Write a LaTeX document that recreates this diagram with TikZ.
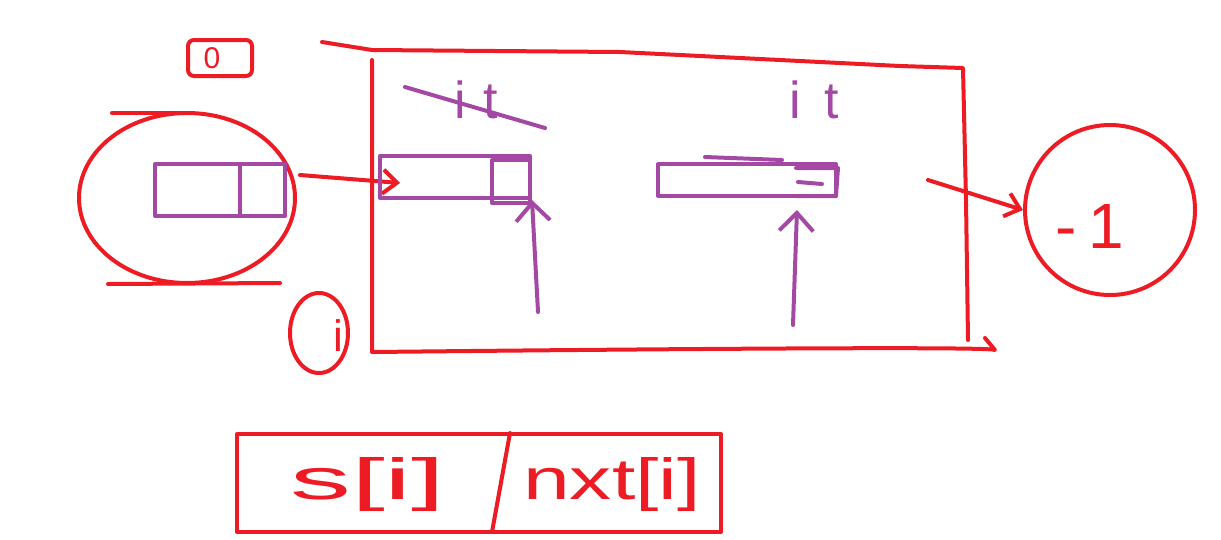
\documentclass[tikz,border=0pt]{standalone}
\usepackage{fontspec}
\usepackage{graphicx}
\setmainfont{Liberation Sans}
\usetikzlibrary{arrows.meta,shapes.geometric}
\definecolor{pred}{HTML}{ED1C24}
\definecolor{ppur}{HTML}{A349A4}
\begin{document}
\begin{tikzpicture}[x=1pt,y=-1pt,line cap=round,line join=round,
  redline/.style={draw=pred,line width=4pt},
  purline/.style={draw=ppur,line width=4pt},
  redtxt/.style={text=pred,font=\fontsize{58}{60}\selectfont,inner sep=0pt},
  purtxt/.style={text=ppur,font=\fontsize{52}{54}\selectfont,inner sep=0pt},
  redarrow/.style={redline,-{Straight Barb[length=14pt,width=24pt,line width=4pt]}},
  purarrow/.style={purline,-{Straight Barb[length=18pt,width=34pt,line width=4pt]}}]
\useasboundingbox (0,0) rectangle (1221,539);
% zero label
\node[redtxt,font=\fontsize{30}{32}\selectfont] (zero) at (212,58) {0};
\draw[redline,rounded corners=6pt] (188,40) rectangle (252,76);
% left circle
\node[draw=pred,line width=4pt,ellipse,minimum width=216pt,minimum height=170pt,inner sep=0pt] (lc) at (187,198) {};
\draw[redline] (112,113) -- (190,113);
\draw[redline] (108,284) -- (280,283);
\node[purline,minimum width=130pt,minimum height=52pt,inner sep=0pt] (lrect) at (220,190) {};
\draw[purline] (240,165) -- (240,215);
% main box
\coordinate (bx1) at (372,60);
\coordinate (bx2) at (372,352);
\coordinate (bx3) at (995,350);
\draw[redline] (322,42) -- (372,50) -- (620,52) -- (900,66) -- (963,68) -- (966,200) -- (968,340);
\draw[redline] (bx1) -- (bx2) .. controls (380,352) and (990,345) .. (bx3) -- (985,338);
% arrow into box
\coordinate (a1s) at (300,175);
\coordinate (a1e) at (400,183);
\draw[redarrow] (a1s) -- (a1e);
% first it (struck)
\node[purtxt] (it1) at (476,100) {i\hspace{18pt}t};
\draw[purline] (405,87) -- (545,128);
% rect 1
\node[purline,minimum width=150pt,minimum height=42pt,inner sep=0pt] (r1) at (455,177) {};
\draw[purline] (492,160) rectangle (530,203);
\coordinate (p1s) at (538,312);
\draw[purarrow] (p1s) -- (r1.south east);
% second it
\node[purtxt] (it2) at (814,100) {i\hspace{24pt}t};
% rect 2
\node[purline,minimum width=178pt,minimum height=32pt,inner sep=0pt] (r2) at (747,180) {};
\draw[purline] (796,168) -- (838,168) -- (836,196) -- (796,196);
\draw[purline] (798,182) -- (822,184);
\coordinate (q1) at (705,157);
\coordinate (q2) at (782,160);
\draw[purline] (q1) -- (q2);
\coordinate (p2s) at (793,325);
\coordinate (p2e) at (797,210);
\draw[purarrow] (p2s) -- (p2e);
% arrow out
\coordinate (a2s) at (928,180);
\node[draw=pred,line width=4pt,circle,minimum size=170pt,inner sep=0pt] (m1) at (1110,210) {};
\node[redtxt,font=\fontsize{64}{66}\selectfont] (m1t) at (1090,226) {-\hspace{12pt}1};
\draw[redarrow] (a2s) -- (m1.west);
% i circle
\node[draw=pred,line width=4pt,ellipse,minimum width=58pt,minimum height=80pt,inner sep=0pt] (ic) at (319,333) {};
\node[redtxt,font=\fontsize{44}{46}\selectfont] (itxt) at (338,336) {i};
% bottom box
\node[redline,minimum width=484pt,minimum height=98pt,inner sep=0pt] (bb) at (479,483) {};
\draw[redline] (510,433) -- (492,532);
\node[redtxt] (s) at (368,484) {\scalebox{2.1}[1]{s[i]}};
\node[redtxt] (nxt) at (612,484) {\scalebox{1.45}[1]{nxt[i]}};
\end{tikzpicture}
\end{document}
